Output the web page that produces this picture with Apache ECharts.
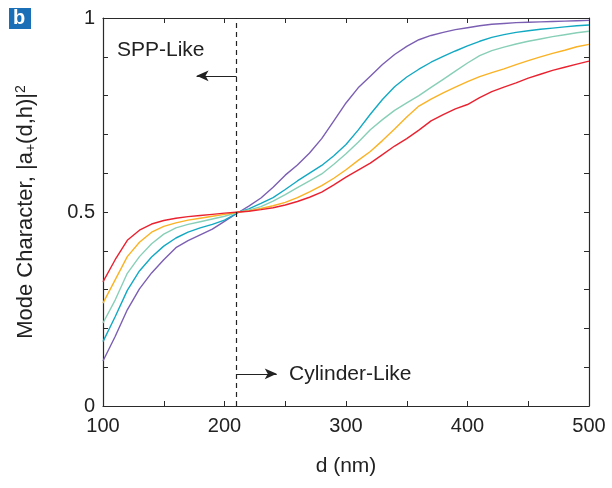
<!DOCTYPE html>
<html><head><meta charset="utf-8">
<script src="https://cdn.jsdelivr.net/npm/echarts@6/dist/echarts.min.js"></script>
<style>html,body{margin:0;padding:0;background:#fff}#c{width:612px;height:488px}</style>
</head><body><div id="c"></div>
<script>
var dValues = [100,110,120,130,140,150,160,170,180,190,200,212,220,230,240,250,260,270,280,290,300,310,320,330,340,350,360,370,380,390,400,410,420,430,440,450,460,470,480,490,500];
var redValues = [0.32,0.377,0.427,0.453,0.469,0.478,0.484,0.488,0.491,0.494,0.497,0.5,0.502,0.506,0.511,0.518,0.527,0.538,0.551,0.57,0.59,0.608,0.626,0.648,0.67,0.689,0.711,0.735,0.751,0.766,0.777,0.795,0.81,0.822,0.833,0.845,0.855,0.865,0.873,0.881,0.889];
var orangeValues = [0.265,0.325,0.385,0.422,0.448,0.463,0.472,0.479,0.484,0.489,0.494,0.5,0.503,0.509,0.516,0.525,0.537,0.552,0.568,0.587,0.609,0.633,0.656,0.684,0.714,0.745,0.773,0.791,0.807,0.822,0.836,0.849,0.859,0.869,0.88,0.89,0.9,0.909,0.917,0.926,0.932];
var greenValues = [0.214,0.273,0.342,0.385,0.418,0.443,0.459,0.468,0.475,0.482,0.489,0.5,0.505,0.514,0.528,0.545,0.563,0.58,0.598,0.623,0.65,0.68,0.712,0.738,0.762,0.781,0.8,0.821,0.842,0.863,0.884,0.903,0.916,0.925,0.933,0.94,0.946,0.952,0.957,0.962,0.966];
var tealValues = [0.166,0.23,0.298,0.348,0.384,0.412,0.433,0.448,0.459,0.468,0.479,0.5,0.508,0.522,0.537,0.558,0.58,0.6,0.62,0.645,0.674,0.711,0.752,0.79,0.823,0.848,0.868,0.886,0.901,0.915,0.928,0.94,0.95,0.957,0.963,0.967,0.971,0.974,0.977,0.98,0.982];
var purpleValues = [0.116,0.179,0.248,0.302,0.343,0.377,0.408,0.426,0.441,0.456,0.476,0.5,0.515,0.536,0.564,0.595,0.621,0.652,0.689,0.735,0.781,0.82,0.85,0.88,0.906,0.927,0.944,0.955,0.963,0.97,0.975,0.98,0.984,0.986,0.988,0.989,0.99,0.991,0.992,0.993,0.994];
var xTickLabels = [100,200,300,400,500];
var yTickLabels = [0,0.5,1];
var dividerD = 210;

function pairs(vals){ return dValues.map(function(d,i){ return [d, vals[i]]; }); }
var seriesDefs = [
  {name:'purple', color:'#7b5fb3', vals:purpleValues},
  {name:'teal', color:'#13a9c3', vals:tealValues},
  {name:'green', color:'#88cfb7', vals:greenValues},
  {name:'orange', color:'#fbb224', vals:orangeValues},
  {name:'red', color:'#ea2230', vals:redValues}
];
var font = 'Liberation Sans, Arial, Helvetica, sans-serif';
var axisColor = '#2a2a2a';
function baseAxis(extra){
  var a = {
    type:'value', axisLine:{show:true,onZero:false,lineStyle:{color:axisColor,width:1.2}},
    axisTick:{show:true,inside:true,length:5,lineStyle:{color:axisColor,width:1}},
    splitLine:{show:false}
  };
  for (var k in extra) a[k]=extra[k];
  return a;
}
var series = seriesDefs.map(function(s){
  return {type:'line', name:s.name, data:pairs(s.vals), showSymbol:false, symbol:'none',
    lineStyle:{color:s.color,width:1.4}, itemStyle:{color:s.color}, silent:true, animation:false};
});
series[0].markLine = {
  silent:true, animation:false, symbol:['none','none'],
  label:{show:false},
  data:[
    [{coord:[dividerD,0],lineStyle:{color:'#222',width:1.2,type:[5,4]}},{coord:[dividerD,1]}],
    [{coord:[dividerD,0.851],symbol:'none',lineStyle:{color:'#222',width:1.2,type:'solid'}},{coord:[177,0.851],symbol:'arrow',symbolSize:[8,12]}],
    [{coord:[dividerD,0.083],symbol:'none',lineStyle:{color:'#222',width:1.2,type:'solid'}},{coord:[243,0.083],symbol:'arrow',symbolSize:[8,12]}]
  ]
};
var chart = echarts.init(document.getElementById('c'), null, {renderer:'canvas'});
chart.setOption({
  animation:false,
  backgroundColor:'#fff',
  grid:{left:103,right:23,top:18,bottom:82},
  xAxis:[
    baseAxis({min:100,max:500,interval:50,position:'bottom',
      name:'d (nm)',nameLocation:'middle',nameGap:50,
      nameTextStyle:{fontFamily:font,fontSize:21,color:'#222'},
      axisLabel:{fontFamily:font,fontSize:20,color:'#222',margin:10,
        formatter:function(v){ return xTickLabels.indexOf(Math.round(v))>=0 ? String(Math.round(v)) : ''; }}}),
    baseAxis({min:100,max:500,interval:50,position:'top',axisLabel:{show:false}})
  ],
  yAxis:[
    baseAxis({min:0,max:1,interval:0.1,position:'left',
      name:'Mode Character, |a{sub|+}(d,h)|{sup|2}',nameLocation:'middle',nameGap:65,
      nameTextStyle:{fontFamily:font,fontSize:22,color:'#222',
        rich:{sub:{fontFamily:font,fontSize:14,color:'#222',verticalAlign:'bottom',padding:[10,0,0,0]},
              sup:{fontFamily:font,fontSize:14,color:'#222',verticalAlign:'top',padding:[0,0,9,0]}}},
      axisLabel:{fontFamily:font,fontSize:20,color:'#222',margin:8,
        formatter:function(v){ for (var i=0;i<yTickLabels.length;i++){ if (Math.abs(v-yTickLabels[i])<1e-6) return String(yTickLabels[i]); } return ''; }}}),
    baseAxis({min:0,max:1,interval:0.1,position:'right',axisLabel:{show:false}})
  ],
  series:series,
  graphic:[
    {type:'rect',left:9,top:8,shape:{width:22,height:21},style:{fill:'#1a6fb7'}},
    {type:'text',left:13,top:8,style:{text:'b',fontFamily:font,fontSize:20,fontWeight:'bold',fill:'#fff'}},
    {type:'text',left:117,top:40,style:{text:'SPP-Like',fontFamily:font,fontSize:21,fill:'#222'}},
    {type:'text',left:289,top:364,style:{text:'Cylinder-Like',fontFamily:font,fontSize:21,fill:'#222'}}
  ]
});
</script></body></html>
